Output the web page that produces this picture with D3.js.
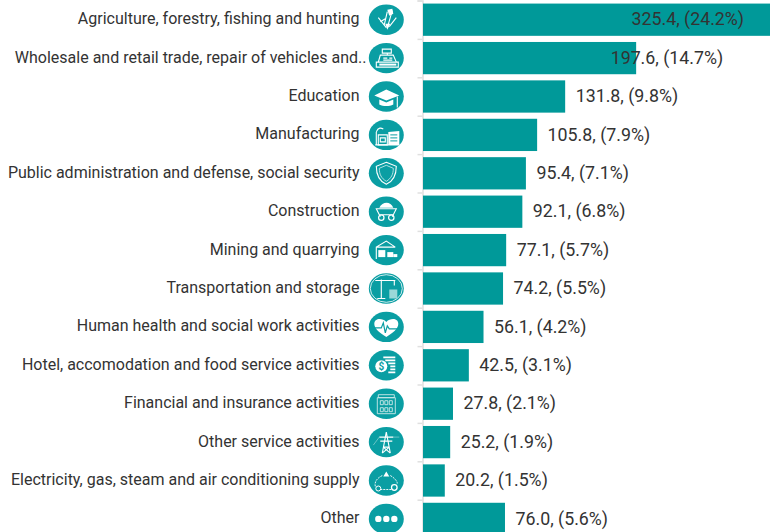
<!DOCTYPE html>
<html>
<head>
<meta charset="utf-8">
<script src="https://cdnjs.cloudflare.com/ajax/libs/d3/7.8.5/d3.min.js"></script>
<style>
  html, body { margin: 0; padding: 0; background: #fff; overflow: hidden; }
  text { font-family: Roboto, sans-serif; }
</style>
</head>
<body>
<svg id="chart"></svg>
<script>
const categories = [
    "Agriculture, forestry, fishing and hunting",
    "Wholesale and retail trade, repair of vehicles and..",
    "Education",
    "Manufacturing",
    "Public administration and defense, social security",
    "Construction",
    "Mining and quarrying",
    "Transportation and storage",
    "Human health and social work activities",
    "Hotel, accomodation and food service activities",
    "Financial and insurance activities",
    "Other service activities",
    "Electricity, gas, steam and air conditioning supply",
    "Other"
];
const values = [325.4, 197.6, 131.8, 105.8, 95.4, 92.1, 77.1, 74.2, 56.1, 42.5, 27.8, 25.2, 20.2, 76.0];
const shares = [24.2, 14.7, 9.8, 7.9, 7.1, 6.8, 5.7, 5.5, 4.2, 3.1, 2.1, 1.9, 1.5, 5.6];
const icons = ["tools", "till", "cap", "factory", "shield", "cart", "depot", "crane", "heart", "money", "bank", "pylon", "cycle", "dots"];

const width = 770, height = 532;
const teal = "#009999";
const axisX = 423;

const svg = d3.select("#chart").attr("width", width).attr("height", height);

// --- SCALES ---
const x = d3.scaleLinear().domain([0, 325.4]).range([axisX, axisX + 351]);
const y = d3.scaleBand().domain(categories).range([0.5, 538.1]).paddingInner(0.16).paddingOuter(0.08);
const rows = d3.scaleLinear().domain([0, categories.length]).range([0.5, 538.1]);

// --- AXIS ---
const tickAxis = svg.append("g").attr("transform", `translate(${axisX - 0.5},0)`)
    .call(d3.axisLeft(rows).tickValues(d3.range(categories.length + 1)).tickSize(5).tickFormat(""));
tickAxis.selectAll("path, line").attr("stroke", "#e0e0e0").attr("stroke-width", 1.5);

const labelAxis = svg.append("g").attr("transform", `translate(${axisX},-0.6)`)
    .call(d3.axisLeft(y).tickSize(0).tickPadding(63.5));
labelAxis.select(".domain").remove();
labelAxis.selectAll("text")
    .attr("fill", "#333")
    .attr("dx", d => d.endsWith("..") ? 7 : 0)
    .style("font-size", "16px")
    .style("font-family", "Roboto, sans-serif");

// --- BARS ---
svg.append("g").selectAll("rect")
    .data(categories).join("rect")
    .attr("x", axisX)
    .attr("y", d => y(d))
    .attr("width", (d, i) => x(values[i]) - axisX)
    .attr("height", y.bandwidth())
    .attr("fill", teal);

// the two longest bars have their labels pulled back from the bar end
const labelShift = { 0: -153, 1: -36 };
svg.append("g").selectAll("text")
    .data(categories).join("text")
    .attr("x", (d, i) => x(values[i]) + 10.5 + (labelShift[i] || 0))
    .attr("y", d => y(d) + y.bandwidth() / 2 + 5.6)
    .attr("fill", "#333")
    .style("font-size", "17.8px")
    .text((d, i) => `${values[i].toFixed(1)}, (${shares[i].toFixed(1)}%)`);

// --- ICONS ---
const iconGroup = svg.append("g").selectAll("g")
    .data(categories).join("g")
    .attr("transform", d => `translate(386.3,${y(d) + y.bandwidth() / 2})`);

iconGroup.append("ellipse").attr("rx", 17.5).attr("ry", 15.2).attr("fill", "#0a9ea3");

const shapes = {
    tools: g => {
        line(g, "M-8 -2L0 8M1 8L6 -9M-2 5L1 -8M3 7L10 -2M-6 2L-1 -1");
        fill(g, "M1 -10L6 -11L7 -6L3 -4Z");
        fill(g, "M-1 4L4 4L1 10Z");
    },
    till: g => {
        line(g, "M-4 -9H5V-5H-4ZM1 -5V-3M-8 4L-6 -3H7L10 4");
        line(g, "M-10 4H12V9H-10Z");
        fill(g, "M-7 5.5H10V7.5H-7Z");
        line(g, "M-3 0H1M3 0H6M-3 2H6");
    },
    cap: g => {
        fill(g, "M0 -7L13 -1L0 4L-12 -1Z");
        fill(g, "M-7 3L0 6L7 3V8C3 10 -3 10 -7 8Z");
        line(g, "M11 0V11");
    },
    factory: g => {
        line(g, "M-10 10V-3M-10 -3C-8 -8 -5 -7 -3 -6M-8 10V0H1V10Z");
        fill(g, "M2 -3L13 -4V10H2Z");
        g.append("path").attr("d", "M4 0H11M4 3H11M4 6H11").attr("stroke", "#0a9ea3").attr("fill", "none");
        line(g, "M-11 10H13M-6 3H-1V7H-6Z");
    },
    shield: g => {
        line(g, "M0 -11L10 -7C10 2 7 8 0 11C-7 8 -10 2 -10 -7Z");
        g.append("path").attr("d", "M0 -8L7 -5C7 1 5 5 0 8C-5 5 -7 1 -7 -5Z").attr("fill", "none").attr("stroke", "#d5f0f0").attr("stroke-width", 0.8);
    },
    cart: g => {
        fill(g, "M-7 -4C-4 -10 4 -11 7 -4Z");
        line(g, "M-10 -3H10L7 3H-7ZM-7 3L-6 5M7 3L6 5");
        g.append("circle").attr("cx", -5).attr("cy", 6).attr("r", 2.7).attr("fill", "none").attr("stroke", "#fff").attr("stroke-width", 1.2);
        g.append("circle").attr("cx", 5).attr("cy", 6).attr("r", 2.7).attr("fill", "none").attr("stroke", "#fff").attr("stroke-width", 1.2);
    },
    depot: g => {
        line(g, "M-10 9V-3L0 -9L9 -3M-10 -3H9");
        fill(g, "M-8 0H-1V7H-8Z");
        fill(g, "M1 2H7V7H1Z");
        fill(g, "M7 4H11V7H7Z");
    },
    crane: g => {
        g.append("ellipse").attr("rx", 16).attr("ry", 13.8).attr("fill", "none").attr("stroke", "#fff").attr("stroke-width", 0.8);
        line(g, "M-5 10V-9M-11 -8H9M-9 10H-1M8 -8V-3");
        g.append("path").attr("d", "M3 1H11V10H3Z").attr("fill", "#9ad8d8");
    },
    heart: g => {
        fill(g, "M0 10C-6 6 -12 2 -12 -3C-12 -9 -4 -9 0 -5C4 -9 12 -9 12 -3C12 2 6 6 0 10Z");
        g.append("path").attr("d", "M-12 1H-5L-3 -4L-1 6L1 -1L3 2H12").attr("fill", "none").attr("stroke", "#0a9ea3").attr("stroke-width", 1.2);
    },
    money: g => {
        g.append("path").attr("d", "M-3 -8H9M-1 -5H9M2 -2H9M4 1H9M4 4H9M2 7H9").attr("fill", "none").attr("stroke", "#fff").attr("stroke-width", 1.8);
        fill(g, "M-5 -5A6 6 0 1 1 -5 7A6 6 0 1 1 -5 -5Z");
        g.append("text").attr("x", -5).attr("y", 4.5).attr("text-anchor", "middle").attr("fill", "#0a9ea3")
            .style("font-size", "10px").style("font-weight", "bold").text("$");
    },
    bank: g => {
        const c = "#cfeaea";
        g.append("path").attr("d", "M-8 -9H8V-6H-8ZM-9 -6H9V10H-9ZM-6 -3H-3V1H-6ZM-1.5 -3H1.5V1H-1.5ZM3 -3H6V1H3ZM-6 4H-3V8H-6ZM-1.5 4H1.5V8H-1.5ZM3 4H6V8H3Z")
            .attr("fill", "none").attr("stroke", c).attr("stroke-width", 0.9);
    },
    pylon: g => {
        line(g, "M-4 11L0 -10L4 11M-7 -5H7M-6 -1H6M-3 5L3 5M-3 5L4 11M3 5L-4 11");
        g.append("path").attr("d", "M-13 3L-7 -5M13 -5L7 -5").attr("fill", "none").attr("stroke", "#8fd3d3").attr("stroke-width", 0.7);
    },
    cycle: g => {
        g.append("path").attr("d", "M-4 -5C-10 -2 -12 2 -11 6M4 -5C9 -2 11 1 11 3M-6 9H6")
            .attr("fill", "none").attr("stroke", "#fff").attr("stroke-width", 0.9).attr("stroke-dasharray", "2 1");
        fill(g, "M-3 -4L0 -9L3 -4Z");
        g.append("circle").attr("cx", -8).attr("cy", 8).attr("r", 2.5).attr("fill", "none").attr("stroke", "#fff");
        g.append("circle").attr("cx", 8).attr("cy", 7).attr("r", 2.8).attr("fill", "none").attr("stroke", "#fff").attr("stroke-width", 1.3);
    },
    dots: g => {
        [-8, 0, 8].forEach(cx => g.append("circle").attr("cx", cx).attr("r", 3.2).attr("fill", "#fff"));
    }
};

function line(g, d) {
    g.append("path").attr("d", d).attr("fill", "none").attr("stroke", "#fff").attr("stroke-width", 1.1);
}
function fill(g, d) {
    g.append("path").attr("d", d).attr("fill", "#fff");
}

iconGroup.each(function (d, i) {
    shapes[icons[i]](d3.select(this));
});
</script>
</body>
</html>
